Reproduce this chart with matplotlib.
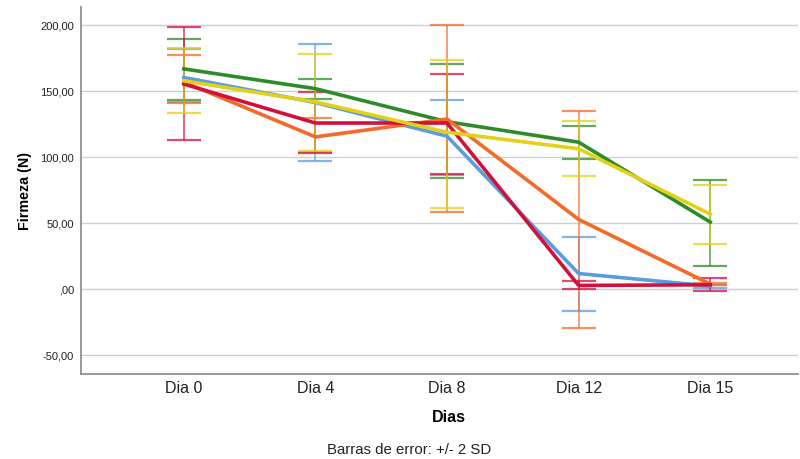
import numpy as np
import matplotlib
matplotlib.use("Agg")
import matplotlib.pyplot as plt
from matplotlib.ticker import FuncFormatter

plt.rcParams['font.family'] = ['Liberation Sans', 'DejaVu Sans']

dias = ['Dia 0', 'Dia 4', 'Dia 8', 'Dia 12', 'Dia 15']

# medias por grupo
media_verde = [166.5, 151.5, 126.5, 111.0, 50.5]
media_azul = [160.0, 141.0, 115.5, 11.5, 2.0]
media_amarillo = [157.5, 141.5, 118.5, 106.0, 56.5]
media_naranja = [156.5, 115.0, 128.5, 52.5, 3.5]
media_rojo = [155.0, 125.5, 125.5, 2.5, 3.0]

# limites de las barras de error (+/- 2 SD)
sup_verde = [189.5, 158.5, 170.0, 123.0, 82.0]
inf_verde = [143.0, 144.0, 84.0, 98.5, 17.0]
sup_azul = [181.5, 185.0, 143.0, 39.5, 3.0]
inf_azul = [141.5, 97.0, 86.5, -17.0, 0.5]
sup_amarillo = [182.0, 177.5, 173.0, 127.0, 78.5]
inf_amarillo = [133.0, 104.5, 61.5, 85.5, 34.0]
sup_naranja = [177.0, 129.5, 199.5, 134.5, 4.5]
inf_naranja = [141.0, 103.5, 58.0, -30.0, 2.5]
sup_rojo = [198.5, 149.0, 163.0, 6.0, 8.5]
inf_rojo = [113.0, 102.5, 87.0, 0.0, -1.5]

grupos = [
    (media_verde, sup_verde, inf_verde, '#2e8b2a'),
    (media_azul, sup_azul, inf_azul, '#5b9be0'),
    (media_naranja, sup_naranja, inf_naranja, '#f26b2a'),
    (media_rojo, sup_rojo, inf_rojo, '#d2103c'),
    (media_amarillo, sup_amarillo, inf_amarillo, '#e3d117'),
]

fig = plt.figure(figsize=(8, 4.6), dpi=100)
ax = fig.add_axes([0.101, 0.185, 0.897, 0.798])

x = np.arange(len(dias))
for i, (m, s, inf, c) in enumerate(grupos):
    m = np.array(m)
    err = [m - np.array(inf), np.array(s) - m]
    ax.errorbar(x, m, yerr=err, fmt='none', ecolor=c, elinewidth=1.2,
                capsize=12, capthick=1.6, alpha=0.75, zorder=2 + i)
for i, (m, s, inf, c) in enumerate(grupos):
    ax.plot(x, m, color=c, linewidth=2.6, zorder=10 + i)

ax.set_xlim(-0.783, 4.67)
ax.set_ylim(-64.5, 213.5)
ax.set_yticks([-50, 0, 50, 100, 150, 200])
ax.yaxis.set_major_formatter(FuncFormatter(
    lambda v, p: (',00' if v == 0 else ('%.2f' % v).replace('.', ','))))
ax.set_xticks(x)
ax.set_xticklabels(dias)
ax.tick_params(axis='both', length=0, colors='#222222')
ax.tick_params(axis='y', labelsize=8, pad=5)
ax.tick_params(axis='x', labelsize=11.5, pad=4.5)
ax.yaxis.grid(True, color='#cfcfcf', linewidth=1)
ax.set_axisbelow(True)
for s in ['top', 'right']:
    ax.spines[s].set_visible(False)
for s in ['left', 'bottom']:
    ax.spines[s].set_color('#888888')
    ax.spines[s].set_linewidth(1.2)

ax.set_ylabel('Firmeza (N)', fontsize=10.3, fontweight='bold', va='center')
ax.yaxis.set_label_coords(-0.078, 0.5)
ax.set_xlabel('Dias', fontsize=11.5, fontweight='bold', va='center')
ax.xaxis.set_label_coords(0.5135, -0.117)
fig.text(0.5115, 0.022, 'Barras de error: +/- 2 SD', ha='center', va='center',
         fontsize=10.8, color='#222222')

fig.savefig('out.png', dpi=100)
